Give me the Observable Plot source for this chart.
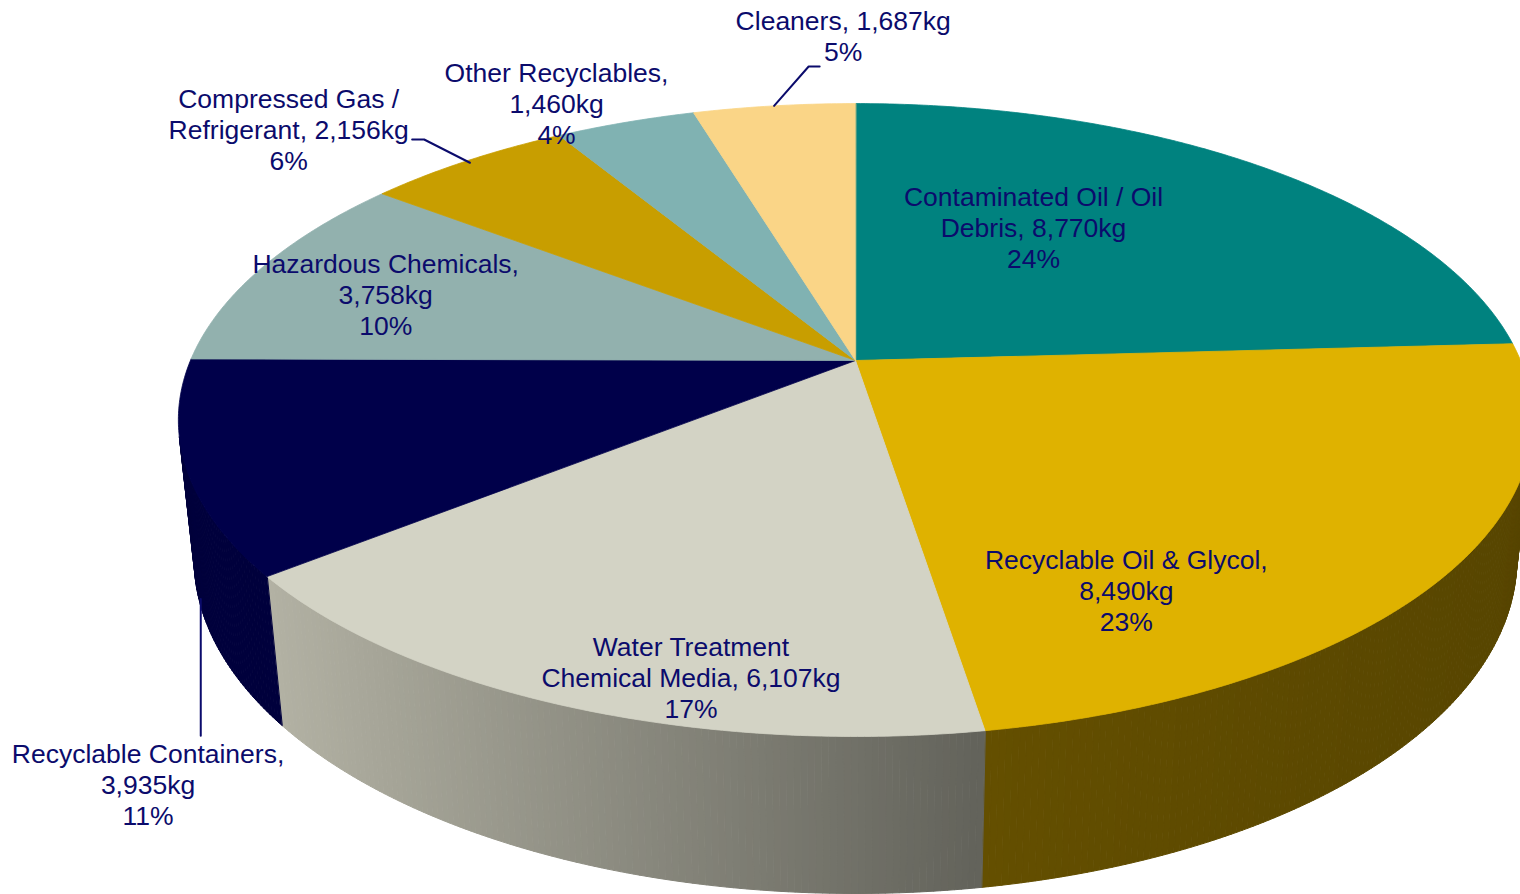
<!DOCTYPE html>
<html>
<head>
<meta charset="utf-8">
<script src="https://cdn.jsdelivr.net/npm/d3@7"></script>
<script src="https://cdn.jsdelivr.net/npm/@observablehq/plot@0.6"></script>
<style>
  html, body { margin: 0; padding: 0; background: #ffffff; }
  svg { display: block; }
</style>
</head>
<body>
<div id="chart"></div>
<script>
// ---------------- DATA ----------------
const categories = [
  "Contaminated Oil / Oil Debris",
  "Recyclable Oil & Glycol",
  "Water Treatment Chemical Media",
  "Recyclable Containers",
  "Hazardous Chemicals",
  "Compressed Gas / Refrigerant",
  "Other Recyclables",
  "Cleaners"
];
const weightsKg = [8770, 8490, 6107, 3935, 3758, 2156, 1460, 1687];

// wrapped category text as printed on the chart
const labelNameLines = [
  ["Contaminated Oil / Oil", "Debris,"],
  ["Recyclable Oil & Glycol,"],
  ["Water Treatment", "Chemical Media,"],
  ["Recyclable Containers,"],
  ["Hazardous Chemicals,"],
  ["Compressed Gas /", "Refrigerant,"],
  ["Other Recyclables,"],
  ["Cleaners,"]
];
const kgOnNameLine = [true, false, true, false, false, true, false, true];

// ---------------- STYLE / LAYOUT ----------------
const topColors  = ["#00827F", "#DFB200", "#D3D3C5", "#00004A", "#92B1AE", "#C89E00", "#80B2B2", "#FAD587"];
const sideColors = [                       // [left end, right end] of the visible rim
  ["#005553", "#004a48"],
  ["#644F00", "#574500"],
  ["#B3B2A4", "#62625A"],
  ["#00003C", "#00003C"],
  ["#5f7472", "#5f7472"],
  ["#836700", "#836700"],
  ["#547474", "#547474"],
  ["#a38b58", "#a38b58"]
];
const textColor = "#0B0B6C";
// label anchor in pie polar coordinates: [angle in degrees clockwise from back, radius fraction]
const labelPolar = [[31.4, 0.560], [151.6, 0.750], [193.4, 0.893], [217.5, 1.386],
                    [287.0, 0.770], [311.6, 1.329], [331.9, 1.134], [359.0, 1.329]];
// leader lines: rim anchor (top or bottom rim) and path offsets relative to label center
const leaderLayout = [
  null, null, null,
  {rim: "bottom", rimY: 0.92, path: "vertical", dy: -48},
  null,
  {rim: "top", rimR: 0.99, path: [[135.5, 10], [123.5, 10]]},
  null,
  {rim: "top", rimR: 1.0, path: [[-34.5, 30.5], [-23.5, 30.5]]}
];

const W = 1520, H = 894;
const view = {cx: 855, cy: 360, F: 3141, D: 4.723, tilt: Math.asin(0.459), thick: 0.2365};
const sT = Math.sin(view.tilt), cT = Math.cos(view.tilt);

function project(theta, r, Y) {
  const X = r * Math.sin(theta), Z = -r * Math.cos(theta);
  const yc = -Y * cT + Z * sT;
  const dep = view.D - Y * sT - Z * cT;
  return [view.cx + view.F * X / dep, view.cy + view.F * yc / dep];
}

// ---------------- GEOMETRY FROM DATA ----------------
const total = d3.sum(weightsKg);
const arcs = d3.pie().sort(null).value(d => d)(weightsKg);
const step = Math.PI / 360;

// top faces
const topPts = [];
arcs.forEach((a, i) => {
  const [x0, y0] = project(0, 0, 0);
  topPts.push({id: i, x: x0, y: y0, color: topColors[i]});
  const n = Math.max(2, Math.ceil((a.endAngle - a.startAngle) / step));
  for (let k = 0; k <= n; k++) {
    const t = a.startAngle + (a.endAngle - a.startAngle) * k / n;
    const [x, y] = project(t, 1, 0);
    topPts.push({id: i, x, y, color: topColors[i]});
  }
});

// visible side strips
const limit = Math.acos(-1 / (view.D * cT));
const vis0 = limit, vis1 = 2 * Math.PI - limit;
const sidePts = [];
let stripId = 0;
arcs.forEach((a, i) => {
  const a0 = Math.max(a.startAngle, vis0), a1 = Math.min(a.endAngle, vis1);
  if (a1 <= a0) return;
  const n = Math.max(1, Math.ceil((a1 - a0) / step));
  const strips = [];
  for (let k = 0; k < n; k++) {
    const t0 = a0 + (a1 - a0) * k / n, t1 = a0 + (a1 - a0) * (k + 1) / n;
    strips.push([project(t0, 1, 0), project(t1, 1, 0), project(t1, 1, -view.thick), project(t0, 1, -view.thick)]);
  }
  const xs = strips.flat().map(p => p[0]);
  const xmin = d3.min(xs), xmax = d3.max(xs);
  const interp = d3.interpolateRgb(sideColors[i][0], sideColors[i][1]);
  strips.forEach(q => {
    const xm = d3.mean(q, p => p[0]);
    const color = d3.color(interp((xm - xmin) / (xmax - xmin || 1))).formatHex();
    q.forEach(([x, y]) => sidePts.push({id: stripId, x, y, color}));
    stripId++;
  });
});

// labels
const fmt = d3.format(",");
const labels = arcs.map((a, i) => {
  const lines = labelNameLines[i].slice();
  const kg = fmt(weightsKg[i]) + "kg";
  if (kgOnNameLine[i]) lines[lines.length - 1] += " " + kg; else lines.push(kg);
  lines.push(Math.round(weightsKg[i] / total * 100) + "%");
  const [x, y] = project(labelPolar[i][0] * Math.PI / 180, labelPolar[i][1], 0);
  return {x, y, text: lines.join("\n"), arc: a};
});

// leader lines
const leaderPts = [];
labels.forEach((l, i) => {
  const L = leaderLayout[i];
  if (!L) return;
  const mid = (l.arc.startAngle + l.arc.endAngle) / 2;
  const anchor = L.rim === "bottom" ? project(mid, 1, -view.thick * L.rimY) : project(mid, L.rimR, 0);
  leaderPts.push({id: i, x: anchor[0], y: anchor[1]});
  if (L.path === "vertical") {
    leaderPts.push({id: i, x: anchor[0], y: l.y + L.dy});
  } else {
    L.path.forEach(([dx, dy]) => leaderPts.push({id: i, x: l.x + dx, y: l.y + dy}));
  }
});

// ---------------- PLOT ----------------
const chart = Plot.plot({
  width: W,
  height: H,
  margin: 0,
  x: {domain: [0, W], axis: null},
  y: {domain: [0, H], reverse: true, axis: null},
  color: {type: "identity"},
  style: {background: "#ffffff", overflow: "hidden"},
  marks: [
    Plot.line(sidePts, {x: "x", y: "y", z: "id", fill: "color", stroke: "color", strokeWidth: 1, curve: "linear-closed"}),
    Plot.line(topPts, {x: "x", y: "y", z: "id", fill: "color", stroke: "color", strokeWidth: 0.8, curve: "linear-closed"}),
    Plot.line(leaderPts, {x: "x", y: "y", z: "id", stroke: textColor, strokeWidth: 2, fill: "none"}),
    Plot.text(labels, {
      x: "x", y: "y", text: "text",
      fill: textColor,
      fontSize: 26.5,
      lineHeight: 31 / 26.5,
      textAnchor: "middle",
      lineAnchor: "middle",
      fontFamily: "'Liberation Sans', Arial, sans-serif"
    })
  ]
});
document.getElementById("chart").appendChild(chart);
</script>
</body>
</html>
